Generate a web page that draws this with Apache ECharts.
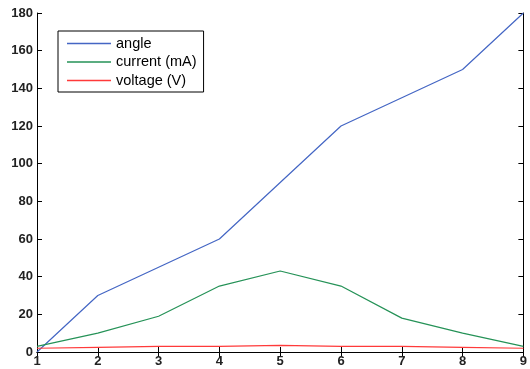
<!DOCTYPE html>
<html lang="en" style="height: 100%">
<head>
<meta charset="UTF-8">
<script src="https://cdn.jsdelivr.net/npm/echarts@6/dist/echarts.min.js"></script>
</head>
<body style="height: 100%; margin: 0; background: #fff">
<div id="container" style="width: 530px; height: 369px"></div>
<script>
// values
var xs = [1, 2, 3, 4, 5, 6, 7, 8, 9];
var angle = [0, 30, 45, 60, 90, 120, 135, 150, 180];
var current = [3, 10, 19, 35, 43, 35, 18, 10, 3];
var voltage = [2, 2.5, 3, 3, 3.5, 3, 3, 2.5, 2];
var seriesNames = ['angle', 'current (mA)', 'voltage (V)'];
var colors = ['#4466c4', '#259257', '#ff3a3a'];

function pairs(ys) {
    return xs.map(function (x, i) { return [x, ys[i]]; });
}

var dom = document.getElementById('container');
var myChart = echarts.init(dom);

var tickLabel = { fontFamily: 'Liberation Sans', fontWeight: 'bold', fontSize: 13, color: '#222' };
var axisLine = { show: true, lineStyle: { color: '#000', width: 1 } };
var axisTick = { show: true, inside: true, length: 5, lineStyle: { color: '#000' } };

var option = {
    backgroundColor: '#fff',
    animation: false,
    color: colors,
    grid: { left: 37, right: 2, top: 13, bottom: 17 },
    legend: {
        orient: 'vertical',
        left: 58,
        top: 31,
        padding: [5, 7, 4, 9],
        itemWidth: 44,
        itemHeight: 1.5,
        itemGap: 3.5,
        icon: 'rect',
        borderColor: '#000',
        borderWidth: 1,
        backgroundColor: '#fff',
        textStyle: { fontFamily: 'Liberation Sans', fontSize: 14.5, color: '#000' },
        data: seriesNames
    },
    xAxis: [{
        type: 'value', min: 1, max: 9, interval: 1,
        axisLine: axisLine, axisTick: axisTick, splitLine: { show: false },
        axisLabel: Object.assign({ margin: 3 }, tickLabel)
    }, {
        type: 'value', position: 'top', min: 1, max: 9, interval: 1,
        axisLine: axisLine, axisTick: axisTick, splitLine: { show: false },
        axisLabel: { show: false }
    }],
    yAxis: [{
        type: 'value', min: 0, max: 180, interval: 20,
        axisLine: axisLine, axisTick: axisTick, splitLine: { show: false },
        axisLabel: Object.assign({ margin: 4 }, tickLabel)
    }, {
        type: 'value', position: 'right', min: 0, max: 180, interval: 20,
        axisLine: axisLine, axisTick: axisTick, splitLine: { show: false },
        axisLabel: { show: false }
    }],
    series: [
        { name: seriesNames[0], type: 'line', data: pairs(angle), symbol: 'none', lineStyle: { width: 1.2 } },
        { name: seriesNames[1], type: 'line', data: pairs(current), symbol: 'none', lineStyle: { width: 1.2 } },
        { name: seriesNames[2], type: 'line', data: pairs(voltage), symbol: 'none', lineStyle: { width: 1.2 } }
    ]
};
myChart.setOption(option);
</script>
</body>
</html>
